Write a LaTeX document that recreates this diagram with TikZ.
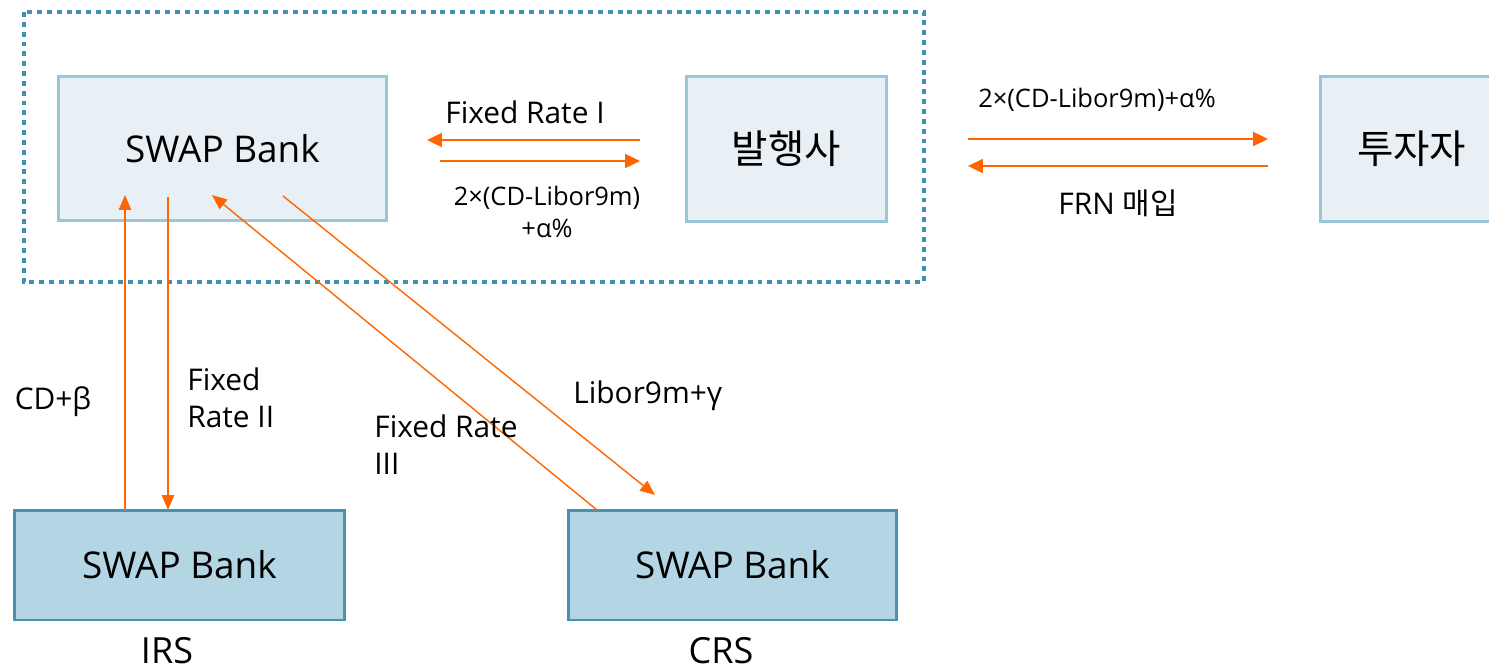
\documentclass[tikz,border=0pt]{standalone}
\usepackage{fontspec}
\setmainfont{Open Sans}
\newfontfamily\kr{Noto Sans CJK KR}
\usetikzlibrary{arrows.meta}
\definecolor{dotblue}{RGB}{64,144,176}
\definecolor{lightfill}{RGB}{232,240,246}
\definecolor{lightborder}{RGB}{155,198,216}
\definecolor{darkfill}{RGB}{180,213,228}
\definecolor{darkborder}{RGB}{74,145,175}
\definecolor{arrorange}{RGB}{255,102,0}
\tikzset{
  topbox/.style={draw=lightborder, fill=lightfill, line width=1.7pt, inner sep=0pt, font=\fontsize{21}{24}\selectfont},
  botbox/.style={draw=darkborder, fill=darkfill, line width=1.7pt, inner sep=0pt, font=\fontsize{21}{24}\selectfont},
  flow/.style={draw=arrorange, line width=1.1pt, -{Triangle[length=8.5pt,width=8pt]}, fill=arrorange},
  vflow/.style={flow, line width=0.9pt, -{Triangle[length=8.5pt,width=7pt]}},
  lbl/.style={inner sep=0pt, font=\fontsize{17}{21}\selectfont},
  slbl/.style={inner sep=0pt, font=\fontsize{14.5}{18}\selectfont},
}
\begin{document}
\begin{tikzpicture}[x=0.02cm,y=-0.02cm]
\useasboundingbox (0,0) rectangle (1489,670);
\clip (0,0) rectangle (1489,670);
% dotted group
\draw[dotblue, line width=2.3pt, dash pattern=on 2.8pt off 2.8pt] (24,12) rectangle (924,282);
% boxes
\node[topbox, minimum width=6.58cm, minimum height=2.9cm] (sb) at (222.5,148.5) {SWAP Bank};
\node[topbox, minimum width=4.02cm, minimum height=2.92cm, font=\kr\fontsize{22.5}{26}\selectfont] (issuer) at (786.5,149) {발행사};
\node[topbox, minimum width=3.8cm, minimum height=2.92cm, text width=3.8cm, align=left, font=\kr\fontsize{22.5}{26}\selectfont] (inv) at (1415,149) {\hspace{0.74cm}투자자};
\node[botbox, minimum width=6.62cm, minimum height=2.2cm] (irs) at (179.5,565) {SWAP Bank};
\node[botbox, minimum width=6.58cm, minimum height=2.2cm] (crs) at (732.5,565) {SWAP Bank};
\node[lbl, font=\fontsize{20.5}{24}\selectfont] (irsl) at (167,651) {IRS};
\node[lbl, font=\fontsize{20.5}{24}\selectfont] (crsl) at (721,651) {CRS};
% endpoints
\coordinate (a1s) at (640,140); \coordinate (a1e) at (427,140);
\coordinate (a2s) at (440,161); \coordinate (a2e) at (640,161);
\coordinate (b1s) at (968,139); \coordinate (b1e) at (1268,139);
\coordinate (b2s) at (1268,166); \coordinate (b2e) at (968,166);
\coordinate (c1s) at (125,510); \coordinate (c1e) at (125,195);
\coordinate (c2s) at (168,197); \coordinate (c2e) at (168,510);
\coordinate (d1s) at (597,510); \coordinate (d1e) at (212,195);
\coordinate (d2s) at (283,196); \coordinate (d2e) at (655,495);
\draw[flow] (a1s) -- (a1e);
\draw[flow] (a2s) -- (a2e);
\draw[flow] (b1s) -- (b1e);
\draw[flow] (b2s) -- (b2e);
\draw[vflow] (c1s) -- (c1e);
\draw[vflow] (c2s) -- (c2e);
\draw[vflow, line width=0.8pt] (d1s) -- (d1e);
\draw[vflow, line width=0.8pt] (d2s) -- (d2e);
% labels
\node[lbl] (t1) at (525,112) {Fixed Rate I};
\node[slbl, align=center] (t2) at (547,212) {2×(CD-Libor9m)\\+α\%};
\node[slbl] (t3) at (1097,100) {2×(CD-Libor9m)+α\%};
\node[lbl] (t4) at (1118,203) {FRN {\kr 매입}};
\node[lbl] (t5) at (53,402) {CD+β};
\node[lbl, align=left, anchor=west] (t6) at (187,398) {Fixed\\Rate II};
\node[lbl, align=left, anchor=west] (t7) at (374,445) {Fixed Rate\\III};
\node[lbl, anchor=west] (t8) at (573,396) {Libor9m+γ};
\end{tikzpicture}
\end{document}
